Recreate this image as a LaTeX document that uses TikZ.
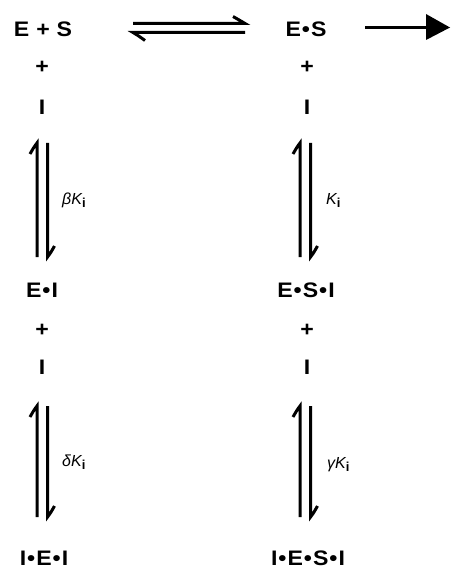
\documentclass[tikz,border=0pt]{standalone}
\usepackage{fontspec}
\usetikzlibrary{calc}
\setmainfont{Liberation Sans}
\newfontfamily\chemfont[FakeStretch=1.1]{Liberation Sans Bold}
\newcommand{\bul}{\hspace{1pt}•\hspace{1pt}}
\newcommand{\kl}[1]{{\fontsize{16}{18}\selectfont\itshape #1K}\raisebox{-3pt}{\fontsize{13}{14}\selectfont\bfseries i}}
\begin{document}
\begin{tikzpicture}[x=1pt,y=-1pt,
  chem/.style={inner sep=0pt,font=\chemfont\fontsize{21}{23}\selectfont},
  klab/.style={inner sep=0pt,anchor=west},
  harp/.style={line width=3pt},
  thick/.style={line width=3pt}]
\useasboundingbox (0,0) rectangle (450,569);
% species
\node[chem] (ES0) at (43,29) {E\hspace{7pt}+\hspace{7pt}S};
\node[chem] (ES) at (306,29) {E\bul S};
\node[chem] (p1) at (42,67) {+};
\node[chem] (I1) at (42,107) {I};
\node[chem] (p2) at (307,67) {+};
\node[chem] (I2) at (307,107) {I};
\node[chem] (EI) at (42,290) {E\bul I};
\node[chem] (ESI) at (306,290) {E\bul S\bul I};
\node[chem] (p3) at (42,330) {+};
\node[chem] (I3) at (42,367) {I};
\node[chem] (p4) at (307,330) {+};
\node[chem] (I4) at (307,367) {I};
\node[chem] (IEI) at (44,558) {I\bul E\bul I};
\node[chem] (IESI) at (308,558) {I\bul E\bul S\bul I};
% labels
\node[klab] (L1) at (62,200) {\kl{β}};
\node[klab] (L2) at (326,200) {\kl{}};
\node[klab] (L3) at (62,462) {\kl{δ}};
\node[klab] (L4) at (327,465) {\kl{γ}};
% horizontal equilibrium
\coordinate (h1) at (133,23.5);
\coordinate (h2) at (245,23.5);
\coordinate (h3) at (133,32.5);
\coordinate (h4) at (245,32.5);
\draw[harp] (h1) -- (h2) .. controls ($(h2)+(-5,-3)$) .. ($(h2)+(-12,-7)$);
\draw[harp] (h4) -- (h3) .. controls ($(h3)+(5,3)$) .. ($(h3)+(12,8)$);
% forward arrow
\coordinate (f1) at (365,28);
\coordinate (f2) at (450,27.5);
\draw[thick] (f1) -- (432,28);
\fill (f2) -- (426,14) -- (426,40) -- cycle;
% vertical equilibria
\foreach \xl/\ya/\yb/\n in {37/143/257/a, 300/143/257/b, 37/406/517/c, 300/406/517/d}{
  \coordinate (\n t) at (\xl,\ya);
  \coordinate (\n b) at (\xl,\yb);
  \coordinate (\n T) at (\xl+10.5,\ya);
  \coordinate (\n B) at (\xl+10.5,\yb);
  \draw[harp] (\n b) -- (\n t) .. controls ($(\n t)+(-3,4)$) .. ($(\n t)+(-7,11)$);
  \draw[harp] (\n T) -- (\n B) .. controls ($(\n B)+(3,-4)$) .. ($(\n B)+(7,-11)$);
}
\end{tikzpicture}
\end{document}
